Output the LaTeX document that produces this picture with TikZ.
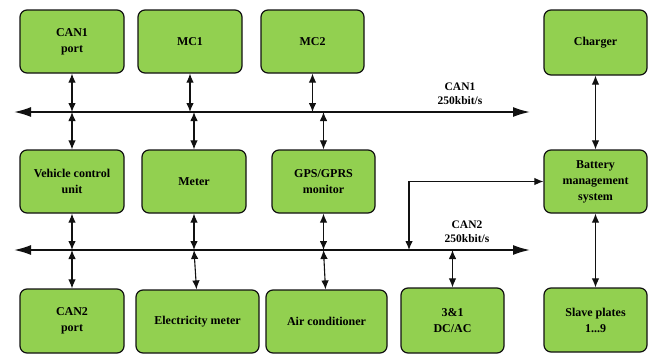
\documentclass[tikz,border=0pt]{standalone}
\usepackage{fontspec}
\setmainfont{Liberation Serif}
\usepackage{tikz}
\usetikzlibrary{arrows.meta}
\usepackage{xcolor}
\definecolor{BoxGreen}{HTML}{92D050}
\definecolor{LineDark}{HTML}{111111}
\tikzset{
  unitnode/.style={draw=LineDark,fill=BoxGreen,line width=1.2pt,rounded corners=7pt,minimum width=104pt,minimum height=63pt,align=center,font=\fontsize{12}{16}\selectfont\bfseries},
  buslabel/.style={align=center,font=\fontsize{11.5}{14}\selectfont\bfseries},
  busline/.style={{Latex[length=17pt,width=10pt]}-{Latex[length=17pt,width=10pt]},line width=1.7pt,draw=LineDark},
  linkarrow/.style={{Latex[length=9pt,width=7.5pt]}-{Latex[length=9pt,width=7.5pt]},line width=1.1pt,draw=LineDark}
}
\begin{document}
\begin{tikzpicture}[x=1pt,y=-1pt]
\useasboundingbox (0,0) rectangle (653,354);
% top row
\node[unitnode] (can1port) at (72,41.5) {CAN1\\port};
\node[unitnode] (mc1) at (190,41.5) {MC1};
\node[unitnode,minimum width=103pt] (mc2) at (312.5,41.5) {MC2};
\node[unitnode,minimum width=103pt,minimum height=65pt] (charger) at (595.5,42.5) {Charger};
% middle row
\node[unitnode] (vcu) at (72,181.5) {Vehicle control\\unit};
\node[unitnode] (meter) at (194,181.5) {Meter};
\node[unitnode,minimum width=103pt] (gps) at (323.5,181.5) {GPS/GPRS\\monitor};
\node[unitnode,minimum width=103pt] (bms) at (595.5,181.5) {Battery\\management\\system};
% bottom row
\node[unitnode,minimum height=64pt] (can2port) at (72,321) {CAN2\\port};
\node[unitnode,minimum width=123pt] (elecmeter) at (197.5,321.5) {Electricity meter};
\node[unitnode,minimum width=121pt] (aircon) at (326.5,321.5) {Air conditioner};
\node[unitnode,minimum width=103pt,minimum height=65pt] (dcac) at (452.5,320.5) {3\&1\\DC/AC};
\node[unitnode,minimum width=103pt,minimum height=64pt] (slave) at (595.5,320) {Slave plates\\1...9};
% buses
\coordinate (bus1l) at (14,112);
\coordinate (bus1r) at (530,112);
\coordinate (bus2l) at (14,250);
\coordinate (bus2r) at (530,250);
\coordinate (bus2tap) at (409,250);
\draw[busline] (bus1l) -- (bus1r);
\draw[busline] (bus2l) -- (bus2r);
\node[buslabel] (can1lbl) at (460,94) {CAN1\\250kbit/s};
\node[buslabel] (can2lbl) at (467,232) {CAN2\\250kbit/s};
% CAN1 links
\draw[linkarrow] (can1port) -- (can1port |- bus1l);
\draw[linkarrow] (mc1) -- (mc1 |- bus1l);
\draw[linkarrow] (mc2) -- (mc2 |- bus1l);
\draw[linkarrow] (vcu |- bus1l) -- (vcu);
\draw[linkarrow] (meter |- bus1l) -- (meter);
\draw[linkarrow] (gps |- bus1l) -- (gps);
% CAN2 links
\draw[linkarrow] (vcu) -- (vcu |- bus2l);
\draw[linkarrow] (meter) -- (meter |- bus2l);
\draw[linkarrow] (gps) -- (gps |- bus2l);
\draw[linkarrow] (can2port.north |- bus2l) -- (can2port.north);
\draw[linkarrow] (meter.south |- bus2l) -- ([xshift=-1pt]elecmeter.north);
\draw[linkarrow] (gps.south |- bus2l) -- ([xshift=-1pt]aircon.north);
\draw[linkarrow] (dcac.north |- bus2l) -- (dcac.north);
\draw[linkarrow] (bus2tap) |- (bms.west);
% BMS links
\draw[linkarrow] (charger) -- (bms);
\draw[linkarrow] (bms) -- (slave);
\end{tikzpicture}
\end{document}
